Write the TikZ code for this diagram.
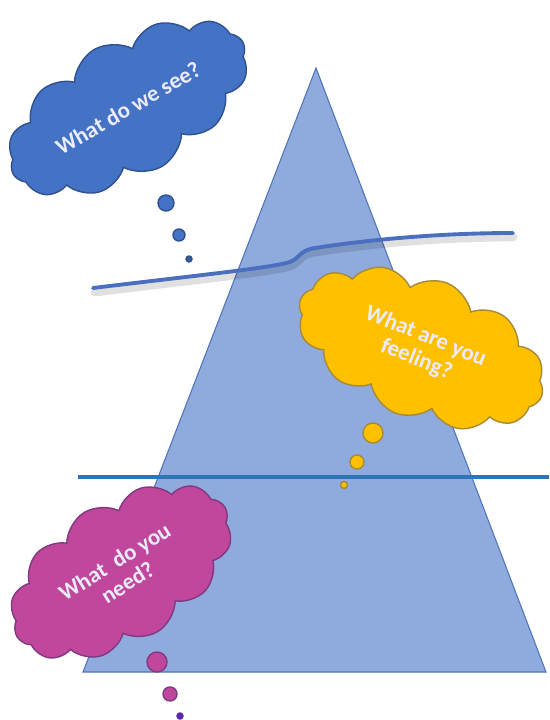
\documentclass[tikz,border=0pt]{standalone}
\usepackage{fontspec}
\setmainfont{Carlito}
\usetikzlibrary{shapes.symbols}
\definecolor{pyramid}{HTML}{8FAADC}
\definecolor{pyramidedge}{HTML}{4F74B8}
\definecolor{seeblue}{HTML}{4472C4}
\definecolor{seeedge}{HTML}{2F528F}
\definecolor{feelgold}{HTML}{FFC000}
\definecolor{feeledge}{HTML}{A68A3A}
\definecolor{needpink}{HTML}{C0479B}
\definecolor{neededge}{HTML}{7F3A82}
\definecolor{lineblue}{HTML}{2E75B6}
\definecolor{waveblue}{HTML}{4A6FBF}
\begin{document}
\begin{tikzpicture}[x=0.02cm, y=-0.02cm,
		thought/.style={cloud, cloud puffs=12, cloud puff arc=115, aspect=2.3,
			draw, line width=0.8pt, align=center, inner sep=2pt,
			font=\fontsize{13}{14}\selectfont\bfseries, text=white!92!blue},
		bubble/.style={draw, line width=0.8pt}
		]
	\useasboundingbox (0,0) rectangle (549,720);
	% pyramid
	\filldraw[fill=pyramid, draw=pyramidedge, line width=0.6pt]
		(316,68) -- (546,672) -- (83,672) -- cycle;
	% lower level line
	\draw[lineblue, line width=2pt] (78,477) -- (549,477);
	% waterline with shadow
	\draw[black, opacity=0.12, line width=5pt, line cap=round]
		(95,292) .. controls (200,279) and (270,272) .. (290,266)
		.. controls (300,262) and (300,254) .. (315,252)
		.. controls (380,242) and (450,237) .. (513,237);
	\draw[waveblue, line width=2.2pt, line cap=round]
		(93,288) .. controls (200,275) and (270,268) .. (290,262)
		.. controls (300,258) and (300,250) .. (315,248)
		.. controls (380,238) and (450,233) .. (513,233);
	% thoughts
	\node[thought, fill=seeblue, draw=seeedge, minimum width=5.3cm, minimum height=2.6cm, rotate=30]
		(see) at (128,108) {What do we see?};
	\node[thought, fill=feelgold, draw=feeledge, minimum width=5.2cm, minimum height=2.8cm, rotate=-22]
		(feel) at (421,348) {What are you\\feeling?};
	\node[thought, fill=needpink, draw=neededge, minimum width=4.9cm, minimum height=2.8cm, rotate=32]
		(need) at (121,572) {What\ \ do you\\need?};
	% bubbles
	\filldraw[bubble, fill=seeblue, draw=seeedge] (166,203) circle (8);
	\filldraw[bubble, fill=seeblue, draw=seeedge] (179,235) circle (6);
	\filldraw[bubble, fill=seeblue!80!black, draw=seeedge] (189,259) circle (3);
	\filldraw[bubble, fill=feelgold, draw=feeledge] (373,433) circle (10);
	\filldraw[bubble, fill=feelgold, draw=feeledge] (357,462) circle (7);
	\filldraw[bubble, fill=feelgold, draw=feeledge] (344,485) circle (3.5);
	\filldraw[bubble, fill=needpink, draw=neededge] (157,662) circle (10);
	\filldraw[bubble, fill=needpink, draw=neededge] (170,694) circle (7);
	\filldraw[bubble, fill=neededge!70!blue, draw=neededge!70!blue] (180,716) circle (3);
\end{tikzpicture}
\end{document}
